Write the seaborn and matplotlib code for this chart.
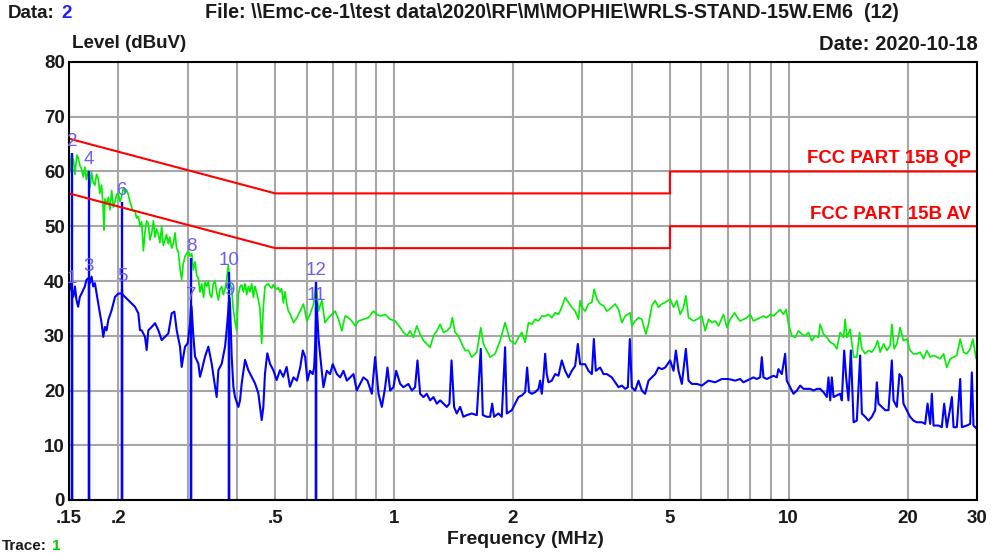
import pandas as pd
import seaborn as sns
import matplotlib.pyplot as plt
from matplotlib.ticker import FixedLocator, FixedFormatter, NullFormatter

# peak trace (green) as (MHz, dBuV)
peak_low = [
    (0.150, 63.4), (0.1515, 60.0), (0.1524, 63.0), (0.1540, 62.0), (0.1553, 59.5), (0.1570, 63.0),
    (0.1582, 62.5), (0.1600, 61.0), (0.1614, 60.5), (0.1630, 59.0), (0.1645, 60.8), (0.1660, 58.5),
    (0.1678, 60.2), (0.1695, 57.0), (0.1711, 59.8), (0.1728, 58.0), (0.1745, 57.5), (0.1762, 59.5),
    (0.1779, 58.8), (0.1795, 56.0), (0.1814, 57.5), (0.1830, 53.5), (0.1840, 49.3), (0.1850, 55.0),
    (0.1868, 54.0), (0.1887, 55.3), (0.1905, 53.0), (0.1924, 56.5), (0.1943, 53.5), (0.1962, 54.5),
    (0.1980, 55.8), (0.2000, 56.0), (0.2020, 54.5), (0.2039, 55.4), (0.2060, 57.0), (0.2079, 56.2),
    (0.2100, 56.6), (0.2120, 55.8), (0.2140, 54.5), (0.2162, 53.5), (0.2180, 52.8), (0.2204, 52.8),
    (0.2225, 51.5), (0.2248, 51.8), (0.2270, 50.0), (0.2292, 50.8), (0.2315, 45.5), (0.2337, 49.0),
    (0.2360, 51.0), (0.2383, 50.5), (0.2405, 47.5), (0.2430, 48.7), (0.2455, 51.0), (0.2478, 48.0),
    (0.2500, 49.5), (0.2527, 48.5), (0.2550, 47.0), (0.2576, 50.0), (0.2600, 46.5), (0.2627, 47.5),
    (0.2650, 48.5), (0.2678, 46.8), (0.2700, 48.0), (0.2731, 46.0), (0.2760, 47.0), (0.2785, 48.8),
    (0.2810, 46.0), (0.2840, 45.2), (0.2870, 42.0), (0.2895, 40.3), (0.2920, 43.0), (0.2952, 44.5),
    (0.2980, 45.0), (0.3010, 45.5), (0.3040, 44.5), (0.3070, 45.0), (0.3100, 42.0), (0.3130, 43.5),
    (0.3160, 41.0), (0.3191, 40.5), (0.3220, 38.0), (0.3254, 39.5), (0.3290, 37.0), (0.3318, 39.8),
    (0.3350, 39.0), (0.3383, 40.0), (0.3415, 37.5), (0.3449, 37.0), (0.3480, 39.5), (0.3517, 40.0),
    (0.3550, 38.0), (0.3586, 36.5), (0.3620, 38.5), (0.3657, 39.0), (0.3690, 37.5), (0.3728, 38.5),
    (0.3760, 40.0), (0.3801, 42.9), (0.3830, 40.0), (0.3876, 38.5), (0.3910, 35.0), (0.3952, 32.5),
    (0.3990, 31.0), (0.4030, 37.5), (0.4070, 39.0), (0.4109, 39.3), (0.4150, 38.0), (0.4190, 39.5),
    (0.4230, 37.5), (0.4271, 39.0), (0.4310, 38.0), (0.4355, 39.5), (0.4400, 37.0), (0.4441, 39.0),
    (0.4480, 38.0), (0.4528, 36.5), (0.4570, 35.0), (0.4617, 28.6), (0.4660, 35.0), (0.4707, 39.0),
    (0.4750, 39.3), (0.4799, 39.5), (0.4850, 39.0), (0.4894, 38.7), (0.4940, 39.3), (0.4990, 38.8),
    (0.5040, 38.5), (0.5087, 38.8), (0.5140, 38.0), (0.5188, 38.6), (0.5240, 36.0), (0.5289, 38.0),
    (0.5340, 36.0), (0.5393, 34.5), (0.5450, 34.0),
]
peak_mid = [
    (0.556, 32.4), (0.567, 33.3), (0.578, 34.5), (0.589, 35.8), (0.601, 32.7), (0.612, 33.9),
    (0.625, 35.8), (0.634, 39.7), (0.643, 34.5), (0.656, 36.4), (0.668, 32.4), (0.682, 33.3),
    (0.695, 33.9), (0.709, 34.5), (0.723, 33.0), (0.737, 30.9), (0.751, 33.6), (0.766, 33.3),
    (0.781, 32.7), (0.797, 31.8), (0.812, 32.7), (0.836, 33.0), (0.861, 33.3), (0.886, 34.5),
    (0.904, 33.9), (0.922, 33.6), (0.949, 33.9), (0.977, 33.0), (1.006, 32.7), (1.036, 31.5),
    (1.056, 30.6), (1.077, 30.0), (1.098, 30.9), (1.119, 29.7), (1.141, 31.8), (1.164, 30.3),
    (1.187, 29.1), (1.210, 28.5), (1.234, 27.9), (1.258, 30.0), (1.283, 30.9), (1.308, 32.1),
    (1.334, 30.6), (1.360, 30.9), (1.387, 31.5), (1.405, 33.3), (1.427, 30.6), (1.455, 30.0),
    (1.484, 28.5), (1.513, 27.3), (1.543, 27.3), (1.573, 26.1), (1.620, 27.0), (1.658, 31.5),
    (1.684, 28.5), (1.717, 27.3), (1.751, 26.1), (1.803, 26.7), (1.856, 29.1), (1.911, 32.4),
    (1.968, 29.1),
]
peak_high = [
    (2.026, 28.5), (2.066, 29.7), (2.107, 30.6), (2.148, 28.8), (2.190, 32.4), (2.233, 32.1),
    (2.277, 33.0), (2.322, 32.7), (2.367, 33.6), (2.414, 33.6), (2.461, 33.9), (2.509, 33.3),
    (2.559, 34.2), (2.609, 33.9), (2.660, 35.2), (2.712, 37.0), (2.766, 36.1), (2.820, 35.2),
    (2.876, 34.5), (2.932, 33.0), (2.961, 36.4), (2.990, 35.2), (3.049, 34.5), (3.108, 35.8),
    (3.170, 36.1), (3.213, 38.5), (3.264, 36.7), (3.328, 35.8), (3.393, 35.5), (3.460, 34.5),
    (3.562, 35.2), (3.632, 35.8), (3.704, 34.8), (3.776, 32.4), (3.851, 33.6), (3.965, 34.2),
    (4.003, 31.8), (4.082, 32.7), (4.162, 33.3), (4.243, 33.0), (4.344, 30.3), (4.412, 32.1),
    (4.499, 35.5), (4.587, 36.4), (4.678, 35.2), (4.769, 35.8), (4.863, 36.1), (5.007, 36.7),
    (5.106, 35.2), (5.206, 36.4), (5.308, 33.9), (5.412, 35.2), (5.487, 37.3), (5.573, 33.3),
    (5.738, 32.7), (5.851, 33.0), (6.023, 33.6), (6.142, 30.9), (6.263, 33.0), (6.386, 32.4),
    (6.511, 32.7), (6.639, 31.8), (6.835, 33.9), (6.970, 31.5), (7.106, 33.0), (7.288, 34.2),
    (7.461, 33.0),
]
peak_top = [
    (7.531, 32.7), (7.679, 33.0), (7.830, 33.3), (7.984, 33.9), (8.141, 32.7), (8.300, 33.0),
    (8.463, 33.3), (8.630, 33.6), (8.799, 33.3), (8.972, 33.9), (9.148, 33.6), (9.328, 34.2),
    (9.511, 34.8), (9.698, 33.9), (9.850, 34.8), (9.985, 32.1), (10.18, 30.0), (10.38, 29.7),
    (10.58, 30.9), (10.79, 30.3), (11.01, 30.0), (11.22, 30.6), (11.44, 29.1), (11.67, 30.0),
    (11.90, 29.7), (12.01, 32.1), (12.25, 30.3), (12.49, 29.7), (12.74, 28.8), (12.99, 28.5),
    (13.24, 27.6), (13.50, 30.6), (13.77, 29.7), (13.90, 33.0), (14.04, 29.7), (14.31, 31.2),
    (14.60, 26.1), (14.88, 26.1), (15.12, 30.6), (15.32, 27.6), (15.62, 26.7), (15.93, 27.3),
    (16.24, 27.0), (16.56, 27.9), (16.79, 29.1), (17.05, 27.0), (17.39, 28.5), (17.73, 27.3),
    (18.08, 28.2), (18.25, 32.1), (18.50, 27.6), (18.79, 28.5), (19.16, 31.5), (19.53, 29.1),
    (19.91, 29.4), (20.30, 27.3), (20.71, 26.7), (21.12, 26.7), (21.53, 27.0), (21.96, 25.8),
    (22.39, 27.3), (22.83, 26.1), (23.28, 26.4), (23.73, 26.1), (24.20, 25.8), (24.68, 26.7),
    (25.16, 24.2), (25.66, 25.8), (26.16, 26.1), (26.67, 26.4), (27.20, 29.4), (27.73, 27.0),
    (28.27, 26.7), (28.83, 27.6), (29.28, 29.4), (29.86, 25.8),
]

# average trace (blue)
avg_low = [
    (0.150, 37.7), (0.1512, 39.6), (0.1524, 38.4), (0.1538, 37.1), (0.1553, 39.0), (0.1567, 36.5),
    (0.1582, 35.3), (0.1598, 37.1), (0.1614, 37.7), (0.1630, 38.4), (0.1645, 39.0), (0.1661, 40.2),
    (0.1678, 40.5), (0.1694, 39.6), (0.1711, 40.8), (0.1728, 39.0), (0.1745, 39.6), (0.1762, 37.7),
    (0.1779, 35.9), (0.1796, 34.1), (0.1814, 32.3), (0.1832, 29.8), (0.1850, 31.6), (0.1868, 31.0),
    (0.1887, 32.9), (0.1924, 34.7), (0.1943, 35.9), (0.1962, 37.1), (0.2000, 37.7), (0.2039, 37.7),
    (0.2079, 37.1), (0.2120, 36.5), (0.2162, 35.9), (0.2204, 35.3), (0.2248, 34.1), (0.2270, 31.0),
    (0.2292, 31.0), (0.2337, 29.8), (0.2360, 27.4), (0.2383, 31.0), (0.2430, 31.6), (0.2478, 32.3),
    (0.2527, 31.0), (0.2576, 29.2), (0.2627, 29.8), (0.2678, 30.4), (0.2731, 34.1), (0.2774, 34.4),
    (0.2812, 31.0), (0.2867, 28.0), (0.2895, 24.3), (0.2923, 26.2), (0.2952, 28.0), (0.2998, 28.6),
    (0.3040, 32.3), (0.3059, 35.5), (0.3070, 34.7), (0.3100, 29.8), (0.3130, 26.2), (0.3191, 24.9),
    (0.3222, 22.5), (0.3254, 23.7), (0.3318, 26.2), (0.3383, 28.0), (0.3449, 24.9), (0.3517, 20.7),
    (0.3551, 18.8), (0.3586, 23.7), (0.3657, 24.9), (0.3728, 28.0), (0.3764, 31.0), (0.3801, 34.7),
    (0.3821, 37.0), (0.3838, 35.9), (0.3876, 26.2), (0.3914, 20.7), (0.3952, 18.8), (0.4030, 17.0),
    (0.4069, 18.2), (0.4109, 21.3), (0.4190, 25.6), (0.4271, 23.7), (0.4355, 22.5), (0.4441, 21.3),
    (0.4528, 19.5), (0.4572, 17.0), (0.4617, 14.6), (0.4662, 17.0), (0.4707, 23.1), (0.4771, 26.8),
    (0.4846, 24.9), (0.4942, 23.7), (0.5038, 21.9), (0.5137, 23.7), (0.5238, 22.5), (0.5341, 24.3),
    (0.5445, 20.7),
]
avg_mid = [
    (0.556, 22.4), (0.567, 21.8), (0.578, 24.2), (0.587, 27.3), (0.595, 26.1), (0.603, 21.8),
    (0.612, 23.6), (0.622, 23.0), (0.627, 24.2), (0.631, 28.5), (0.636, 36.2), (0.643, 29.7),
    (0.649, 26.7), (0.662, 20.6), (0.675, 23.6), (0.688, 23.0), (0.699, 24.8), (0.716, 23.0),
    (0.730, 22.4), (0.744, 23.6), (0.759, 21.8), (0.774, 22.4), (0.789, 23.0), (0.804, 20.0),
    (0.820, 21.2), (0.836, 22.4), (0.856, 21.8), (0.878, 19.4), (0.895, 26.1), (0.913, 19.4),
    (0.931, 17.0), (0.949, 20.6), (0.962, 24.2), (0.977, 20.0), (0.996, 20.6), (1.012, 23.6),
    (1.036, 21.2), (1.056, 20.6), (1.087, 21.2), (1.109, 20.0), (1.130, 20.6), (1.146, 25.5),
    (1.164, 19.4), (1.187, 18.8), (1.210, 19.4), (1.234, 18.2), (1.258, 18.8), (1.283, 17.6),
    (1.308, 18.2), (1.334, 17.6), (1.360, 17.0), (1.381, 17.6), (1.398, 25.5), (1.419, 17.0),
    (1.441, 15.8), (1.470, 17.0), (1.498, 15.2), (1.528, 15.5), (1.573, 15.8), (1.620, 15.5),
    (1.658, 27.6), (1.678, 15.5), (1.717, 15.2), (1.751, 15.2), (1.772, 17.6), (1.792, 15.2),
    (1.838, 15.8), (1.874, 15.2), (1.911, 27.9), (1.930, 15.8), (1.987, 16.4),
]
avg_high = [
    (2.026, 17.6), (2.066, 18.8), (2.107, 19.1), (2.148, 19.7), (2.173, 24.2), (2.198, 19.7),
    (2.233, 19.4), (2.277, 19.7), (2.322, 20.3), (2.344, 21.8), (2.367, 19.4), (2.390, 22.4),
    (2.414, 26.7), (2.437, 23.0), (2.461, 21.5), (2.509, 21.8), (2.559, 23.0), (2.609, 22.7),
    (2.660, 25.5), (2.712, 23.6), (2.766, 22.4), (2.820, 23.6), (2.876, 24.5), (2.921, 28.5),
    (2.961, 24.8), (3.049, 24.8), (3.108, 23.6), (3.170, 23.0), (3.207, 29.4), (3.244, 23.6),
    (3.328, 24.2), (3.393, 23.0), (3.460, 23.0), (3.562, 22.4), (3.632, 21.5), (3.704, 20.6),
    (3.776, 20.9), (3.851, 20.3), (3.911, 20.6), (3.957, 29.4), (4.003, 20.6), (4.082, 20.0),
    (4.162, 21.8), (4.243, 20.0), (4.327, 19.4), (4.412, 21.8), (4.499, 22.4), (4.587, 23.0),
    (4.678, 24.2), (4.769, 23.9), (4.863, 24.2), (5.007, 25.5), (5.106, 23.6), (5.176, 27.3),
    (5.257, 23.6), (5.360, 21.2), (5.487, 27.6), (5.573, 21.8), (5.682, 21.2), (5.851, 21.2),
    (6.023, 20.9), (6.263, 21.8), (6.511, 21.5), (6.769, 22.1), (7.038, 22.1), (7.317, 21.8),
]
avg_top = [
    (7.531, 22.1), (7.679, 21.5), (7.830, 21.8), (7.984, 22.1), (8.141, 22.4), (8.300, 22.1),
    (8.463, 22.4), (8.546, 26.1), (8.630, 22.4), (8.799, 22.1), (8.972, 22.4), (9.148, 22.7),
    (9.328, 22.4), (9.418, 23.9), (9.604, 23.0), (9.793, 26.7), (9.888, 21.8), (10.08, 20.6),
    (10.28, 19.4), (10.49, 20.0), (10.69, 20.9), (10.90, 20.3), (11.11, 20.3), (11.33, 20.3),
    (11.56, 20.0), (11.78, 20.3), (12.01, 20.3), (12.25, 19.7), (12.49, 18.8), (12.61, 22.4),
    (12.74, 18.2), (12.86, 22.4), (12.99, 18.8), (13.24, 19.1), (13.50, 19.4), (13.63, 18.2),
    (13.82, 27.3), (13.98, 22.4), (14.17, 18.2), (14.37, 27.3), (14.60, 14.2), (14.88, 14.5),
    (15.17, 26.4), (15.32, 15.8), (15.62, 15.2), (15.93, 14.5), (16.24, 15.2), (16.56, 16.4),
    (16.72, 21.5), (16.88, 17.6), (17.21, 17.0), (17.56, 16.4), (17.90, 16.4), (18.08, 20.9),
    (18.25, 25.5), (18.43, 18.2), (18.79, 17.0), (19.08, 23.0), (19.35, 22.4), (19.53, 17.6),
    (19.91, 16.4), (20.30, 15.2), (20.71, 14.5), (21.12, 14.2), (21.75, 14.2), (22.17, 13.9),
    (22.48, 17.6), (22.83, 13.9), (23.05, 19.4), (23.28, 13.6), (23.96, 13.6), (24.43, 13.3),
    (24.77, 17.6), (25.16, 13.3), (25.56, 16.1), (25.91, 18.8), (26.16, 13.3), (26.67, 13.3),
    (27.20, 22.1), (27.46, 13.3), (28.27, 13.6), (28.83, 13.9), (29.11, 23.3), (29.39, 13.6),
    (29.97, 13.0),
]

# FCC Part 15B limit lines
limit_freq = [0.15, 0.5, 5, 5, 30]
qp_level = [66, 56, 56, 60, 60]
av_level = [56, 46, 46, 50, 50]

# markers
marker_num = [1, 2, 3, 4, 5, 6, 7, 8, 9, 10, 11, 12]
marker_freq = [0.1526, 0.1526, 0.1684, 0.1684, 0.2044, 0.2044,
               0.3059, 0.3059, 0.3821, 0.3821, 0.634, 0.634]
marker_level = [38.3, 63.4, 40.5, 60.0, 38.6, 54.4, 35.2, 44.2, 36.1, 41.6, 35.2, 39.8]

xtick_vals = [0.15, 0.2, 0.5, 1, 2, 5, 10, 20, 30]
xtick_labels = ['.15', '.2', '.5', '1', '2', '5', '10', '20', '30']
xgrid_vals = [0.3, 0.4, 0.6, 0.7, 0.8, 0.9, 3, 4, 6, 7, 8, 9]

sns.set_style('white')
plt.rcParams['font.family'] = ['Liberation Sans', 'DejaVu Sans']

W, H = 995, 553
fig = plt.figure(figsize=(W / 100, H / 100), dpi=100)
ax = fig.add_axes([69 / W, 53 / H, 908 / W, 438 / H])

peak = pd.DataFrame(peak_low + peak_mid + peak_high + peak_top, columns=['freq', 'level'])
avg = pd.DataFrame(avg_low + avg_mid + avg_high + avg_top, columns=['freq', 'level'])
limits = pd.DataFrame({'freq': limit_freq, 'qp': qp_level, 'av': av_level})

ax.set_xscale('log')
sns.lineplot(data=peak, x='freq', y='level', ax=ax, color='#00ee00', linewidth=1.2,
             estimator=None, sort=False)
sns.lineplot(data=avg, x='freq', y='level', ax=ax, color='#0000ff', linewidth=1.5,
             estimator=None, sort=False)
ax.vlines(marker_freq, 0, marker_level, color='#0000ff', linewidth=1.7)
sns.lineplot(data=limits, x='freq', y='qp', ax=ax, color='#ff0000', linewidth=1.5,
             estimator=None, sort=False)
sns.lineplot(data=limits, x='freq', y='av', ax=ax, color='#ff0000', linewidth=1.5,
             estimator=None, sort=False)

for n, f, lv in zip(marker_num, marker_freq, marker_level):
    ax.text(f, lv + 0.6, str(n), color='#6a5cff', fontsize=13.5, ha='center', va='bottom')

ax.text(28.9, 62.3, 'FCC PART 15B QP', color='#ff0000', fontsize=13.4, fontweight='bold',
        ha='right', va='center')
ax.text(28.9, 52.2, 'FCC PART 15B AV', color='#ff0000', fontsize=13.4, fontweight='bold',
        ha='right', va='center')

ax.set_xlim(0.15, 30)
ax.set_ylim(0, 80)
ax.xaxis.set_major_locator(FixedLocator(xtick_vals))
ax.xaxis.set_major_formatter(FixedFormatter(xtick_labels))
ax.xaxis.set_minor_locator(FixedLocator(xgrid_vals))
ax.xaxis.set_minor_formatter(NullFormatter())
ax.set_yticks(range(0, 81, 10))
ax.tick_params(which='both', length=0, labelsize=13.5, colors='#1a1a1a')
ax.tick_params(axis='x', pad=7)
ax.tick_params(axis='y', pad=3)
for lbl in ax.get_xticklabels() + ax.get_yticklabels():
    lbl.set_fontweight('bold')
ax.grid(which='both', color='#a6a6a6', linewidth=1.5)
ax.set_axisbelow(True)
for sp in ax.spines.values():
    sp.set_color('black')
    sp.set_linewidth(1.5)
ax.set_xlabel('')
ax.set_ylabel('')

txt = dict(fontsize=13.5, fontweight='bold', color='#1a1a1a', va='center')
fig.text(8 / W, 1 - 13 / H, 'Data:', **txt)
fig.text(61 / W, 1 - 13 / H, '2', **{**txt, 'color': '#2020ff'})
fig.text(205 / W, 1 - 13 / H,
         'File: \\\\Emc-ce-1\\test data\\2020\\RF\\M\\MOPHIE\\WRLS-STAND-15W.EM6  (12)',
         **{**txt, 'fontsize': 14.2})
fig.text(72 / W, 1 - 44 / H, 'Level (dBuV)', **txt)
fig.text(978 / W, 1 - 45 / H, 'Date: 2020-10-18', ha='right', **{**txt, 'fontsize': 14.5})
fig.text(525 / W, 1 - 540 / H, 'Frequency (MHz)', ha='center', **{**txt, 'fontsize': 14})
fig.text(2 / W, 1 - 546 / H, 'Trace:', **{**txt, 'fontsize': 11})
fig.text(52 / W, 1 - 546 / H, '1', **{**txt, 'fontsize': 11, 'color': '#00cc00'})

fig.savefig('out.png', dpi=100)
